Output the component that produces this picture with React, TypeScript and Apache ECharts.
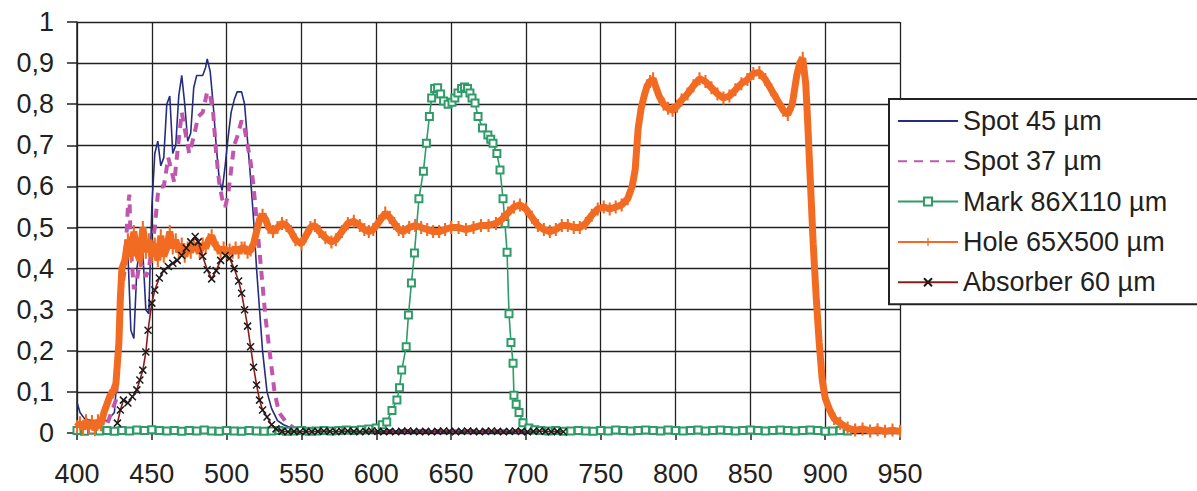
import React, { useEffect, useRef } from "react";
import * as echarts from "echarts";

const xTicks = { min: 400, max: 950, interval: 50 };
const yTicks = { min: 0, max: 1, interval: 0.1 };

const seriesNames = ["Spot 45 µm", "Spot 37 µm", "Mark 86X110 µm", "Hole 65X500 µm", "Absorber 60 µm"];

const spot45: number[][] = [
  [400, 0.075], [402, 0.05], [405, 0.035], [410, 0.03], [415, 0.03], [420, 0.03], [425, 0.05],
  [428, 0.2], [430, 0.38], [432, 0.46], [434, 0.44], [436, 0.25], [438, 0.23], [440, 0.4],
  [442, 0.45], [444, 0.44], [446, 0.3], [448, 0.29], [450, 0.55], [452, 0.68], [454, 0.71],
  [456, 0.65], [458, 0.67], [460, 0.8], [462, 0.82], [464, 0.68], [466, 0.7], [468, 0.82],
  [470, 0.87], [472, 0.8], [474, 0.71], [476, 0.73], [478, 0.84], [480, 0.87], [484, 0.87],
  [486, 0.89], [487, 0.91], [489, 0.88], [491, 0.8], [493, 0.7], [495, 0.62], [497, 0.59],
  [499, 0.65], [501, 0.72], [503, 0.78], [505, 0.81], [507, 0.83], [510, 0.83], [512, 0.8],
  [514, 0.71], [516, 0.62], [518, 0.52], [520, 0.4], [522, 0.3], [524, 0.2], [527, 0.1],
  [530, 0.06], [534, 0.03], [538, 0.02], [545, 0.01], [550, 0.006], [600, 0.005], [700, 0.004]
];

const spot37: number[][] = [
  [400, 0.02], [420, 0.02], [426, 0.08], [428, 0.2], [430, 0.35], [432, 0.4], [434, 0.55],
  [435, 0.58], [436, 0.45], [438, 0.35], [440, 0.37], [442, 0.42], [444, 0.4], [446, 0.38],
  [448, 0.4], [450, 0.45], [452, 0.5], [454, 0.58], [456, 0.6], [458, 0.6], [461, 0.67],
  [463, 0.64], [465, 0.61], [467, 0.68], [470, 0.78], [472, 0.74], [475, 0.68], [478, 0.72],
  [481, 0.77], [484, 0.78], [487, 0.83], [489, 0.82], [491, 0.78], [493, 0.68], [495, 0.61],
  [497, 0.57], [499, 0.55], [501, 0.58], [503, 0.64], [505, 0.7], [507, 0.72], [510, 0.76],
  [512, 0.74], [514, 0.7], [516, 0.66], [518, 0.6], [520, 0.52], [522, 0.44], [524, 0.36],
  [526, 0.28], [528, 0.22], [530, 0.16], [532, 0.1], [535, 0.05], [540, 0.025], [545, 0.012],
  [550, 0.008], [600, 0.005], [700, 0.004]
];

const mark86x110: number[][] = [
  [400, 0.006], [405, 0.004], [410, 0.007], [415, 0.005], [420, 0.006], [425, 0.004], [430, 0.006],
  [435, 0.005], [440, 0.007], [445, 0.006], [450, 0.008], [455, 0.006], [460, 0.005], [465, 0.006],
  [470, 0.004], [475, 0.006], [480, 0.005], [485, 0.007], [490, 0.005], [495, 0.004], [500, 0.006],
  [505, 0.005], [510, 0.004], [515, 0.006], [520, 0.005], [525, 0.004], [530, 0.005], [535, 0.006],
  [540, 0.004], [545, 0.005], [550, 0.006], [555, 0.004], [560, 0.005], [565, 0.006], [570, 0.005],
  [575, 0.006], [580, 0.007], [585, 0.006], [590, 0.008], [595, 0.01], [600, 0.012], [604, 0.02],
  [607, 0.027], [610.5, 0.055], [613.8, 0.08], [615.5, 0.11], [617, 0.153], [620, 0.21],
  [621.5, 0.287], [623.5, 0.365], [625.5, 0.438], [628.5, 0.57], [631.5, 0.637], [633.5, 0.705],
  [635.5, 0.77], [637, 0.815], [639, 0.838], [641, 0.84], [643, 0.825], [645, 0.808], [648, 0.8],
  [650.6, 0.805], [652.5, 0.815], [654.6, 0.827], [657, 0.838], [659, 0.842], [661, 0.838],
  [662.6, 0.827], [664, 0.815], [666, 0.803], [668, 0.77], [671, 0.742], [674.6, 0.725],
  [676.5, 0.715], [678, 0.705], [680.6, 0.68], [682.7, 0.64], [684.7, 0.57], [686, 0.51],
  [687.4, 0.44], [688.7, 0.29], [690, 0.22], [691.4, 0.17], [692, 0.092], [693.5, 0.07],
  [695.4, 0.05], [698, 0.025], [702, 0.012], [706, 0.008], [710, 0.006], [715, 0.005],
  [720, 0.006], [725, 0.004], [730, 0.005], [735, 0.006], [740, 0.005], [745, 0.004], [750, 0.006],
  [755, 0.005], [760, 0.007], [765, 0.006], [770, 0.005], [775, 0.006], [780, 0.007], [785, 0.006],
  [790, 0.005], [795, 0.007], [800, 0.006], [805, 0.005], [810, 0.006], [815, 0.007], [820, 0.005],
  [825, 0.006], [830, 0.007], [835, 0.006], [840, 0.005], [845, 0.006], [850, 0.007], [855, 0.006],
  [860, 0.005], [865, 0.006], [870, 0.007], [875, 0.006], [880, 0.005], [885, 0.006], [890, 0.007],
  [895, 0.006], [900, 0.004], [905, 0.005], [910, 0.006], [915, 0.005]
];

const hole65x500: number[][] = [
  [400, 0.015], [402, 0.025], [404, 0.01], [406, 0.03], [408, 0.012], [410, 0.028], [412, 0.008],
  [414, 0.03], [416, 0.02], [418, 0.05], [420, 0.07], [422, 0.09], [424, 0.1], [426, 0.12],
  [427, 0.17], [428, 0.22], [429, 0.33], [430, 0.4], [432, 0.42], [434, 0.47], [436, 0.43],
  [438, 0.49], [440, 0.44], [442, 0.42], [444, 0.5], [446, 0.44], [448, 0.47], [450, 0.43],
  [452, 0.46], [454, 0.42], [456, 0.48], [458, 0.43], [460, 0.45], [462, 0.49], [464, 0.45],
  [466, 0.47], [468, 0.44], [470, 0.46], [472, 0.43], [474, 0.45], [476, 0.44], [478, 0.46],
  [480, 0.45], [482, 0.44], [484, 0.46], [486, 0.45], [488, 0.47], [490, 0.48], [492, 0.46],
  [494, 0.45], [496, 0.44], [498, 0.45], [500, 0.44], [502, 0.445], [504, 0.44], [506, 0.45],
  [508, 0.44], [510, 0.45], [512, 0.45], [514, 0.44], [516, 0.445], [518, 0.46], [520, 0.49],
  [522, 0.52], [524, 0.53], [526, 0.52], [528, 0.5], [531, 0.49], [534, 0.5], [537, 0.51],
  [540, 0.505], [543, 0.49], [546, 0.47], [550, 0.46], [553, 0.48], [556, 0.5], [559, 0.505],
  [562, 0.49], [566, 0.475], [570, 0.465], [573, 0.47], [577, 0.49], [581, 0.51], [585, 0.515],
  [589, 0.505], [592, 0.495], [595, 0.49], [598, 0.495], [602, 0.515], [606, 0.535], [609, 0.525],
  [612, 0.51], [615, 0.495], [618, 0.49], [622, 0.5], [626, 0.505], [630, 0.5], [634, 0.495],
  [638, 0.49], [642, 0.49], [646, 0.495], [650, 0.5], [655, 0.5], [660, 0.495], [665, 0.5],
  [670, 0.505], [675, 0.505], [680, 0.51], [684, 0.52], [688, 0.535], [692, 0.55], [696, 0.555],
  [700, 0.545], [704, 0.525], [708, 0.505], [712, 0.495], [716, 0.49], [720, 0.495], [724, 0.505],
  [728, 0.505], [732, 0.5], [736, 0.5], [740, 0.51], [744, 0.53], [748, 0.545], [752, 0.55],
  [756, 0.545], [760, 0.55], [764, 0.555], [768, 0.57], [771, 0.6], [773, 0.64], [775, 0.74],
  [777, 0.79], [779, 0.82], [781, 0.845], [783, 0.855], [785, 0.862], [787, 0.84], [789, 0.82],
  [792, 0.8], [795, 0.79], [798, 0.785], [801, 0.795], [804, 0.81], [808, 0.825], [812, 0.845],
  [816, 0.862], [820, 0.855], [824, 0.84], [828, 0.825], [832, 0.815], [836, 0.82], [840, 0.835],
  [844, 0.85], [848, 0.86], [852, 0.875], [856, 0.877], [860, 0.86], [864, 0.835], [868, 0.81],
  [872, 0.785], [875, 0.775], [878, 0.8], [881, 0.87], [883, 0.9], [885, 0.912], [887, 0.85],
  [888, 0.78], [890, 0.62], [892, 0.46], [894, 0.33], [896, 0.22], [898, 0.13], [900, 0.085],
  [903, 0.056], [906, 0.035], [910, 0.024], [915, 0.012], [920, 0.007], [925, 0.01], [930, 0.005],
  [935, 0.008], [940, 0.004], [945, 0.007], [950, 0.004]
];

const absorber60: number[][] = [
  [427, 0.024], [429, 0.056], [431, 0.08], [434, 0.073], [437, 0.088], [440, 0.105], [442, 0.129],
  [444, 0.153], [446, 0.197], [447.5, 0.25], [450, 0.316], [452, 0.348], [455, 0.377], [458, 0.395],
  [461, 0.405], [464, 0.413], [467, 0.42], [470, 0.432], [473, 0.45], [476, 0.465], [479, 0.478],
  [481, 0.465], [484, 0.43], [487, 0.397], [490, 0.375], [493, 0.395], [496, 0.42], [499, 0.432],
  [502, 0.425], [505, 0.4], [508, 0.37], [510, 0.34], [512, 0.3], [514, 0.26], [516, 0.21],
  [518, 0.16], [520, 0.117], [522, 0.08], [524, 0.056], [527, 0.039], [530, 0.02], [533, 0.01],
  [537, 0.004], [541, 0.003], [545, 0.004], [549, 0.003], [553, 0.004], [557, 0.003], [561, 0.004],
  [565, 0.005], [569, 0.004], [573, 0.003], [577, 0.004], [581, 0.005], [585, 0.004], [589, 0.003],
  [593, 0.004], [597, 0.005], [601, 0.004], [605, 0.003], [609, 0.004], [613, 0.003], [617, 0.004],
  [621, 0.005], [625, 0.004], [629, 0.003], [633, 0.004], [637, 0.003], [641, 0.004], [645, 0.005],
  [649, 0.004], [653, 0.003], [657, 0.004], [661, 0.005], [665, 0.004], [669, 0.003], [673, 0.004],
  [677, 0.005], [681, 0.004], [685, 0.003], [689, 0.004], [693, 0.005], [697, 0.004], [701, 0.003],
  [705, 0.004], [709, 0.005], [713, 0.004], [717, 0.003], [721, 0.004], [725, 0.003]
];

const FONT = "'Liberation Sans', Arial, sans-serif";
const TXT = "#231f20";
// vertical bar with a square bounding box (tiny corner segments widen the box)
const BAR = "path://M0,0L0.01,0M4.2,0L5.8,0L5.8,10L4.2,10ZM10,10L9.99,10";
const CROSS = "path://M0,0L10,10M10,0L0,10";

export default function App() {
  const ref = useRef<HTMLDivElement>(null);
  useEffect(() => {
    if (!ref.current) return;
    const chart = echarts.init(ref.current, undefined, { renderer: "svg" });
    const option: any = {
      animation: false,
      backgroundColor: "#ffffff",
      grid: {
        left: 77,
        right: 297,
        top: 22,
        bottom: 58,
        containLabel: false,
        outerBoundsMode: "none"
      },
      xAxis: {
        type: "value",
        min: xTicks.min,
        max: xTicks.max,
        interval: xTicks.interval,
        axisLine: { show: true, lineStyle: { color: "#222", width: 1.5 } },
        axisTick: { show: true, length: 7, lineStyle: { color: "#222", width: 1.5 } },
        axisLabel: { fontSize: 27, lineHeight: 25, fontFamily: FONT, color: TXT, margin: 28 },
        splitLine: { show: true, lineStyle: { color: "#222", width: 1.3 } }
      },
      yAxis: {
        type: "value",
        min: yTicks.min,
        max: yTicks.max,
        interval: yTicks.interval,
        axisLine: { show: true, lineStyle: { color: "#222", width: 1.5 } },
        axisTick: { show: true, length: 10, lineStyle: { color: "#222", width: 1.5 } },
        axisLabel: {
          fontSize: 27,
          fontFamily: FONT,
          color: TXT,
          margin: 23,
          formatter: (v: number) => (v === 0 ? "0" : v === 1 ? "1" : v.toFixed(1).replace(".", ","))
        },
        splitLine: { show: true, lineStyle: { color: "#222", width: 1.3 } }
      },
      legend: {
        orient: "vertical",
        left: 889,
        top: 99,
        data: [
          { name: seriesNames[0], itemStyle: { opacity: 0 } },
          { name: seriesNames[1], itemStyle: { opacity: 0 } },
          { name: seriesNames[2] },
          { name: seriesNames[3] },
          { name: seriesNames[4] }
        ],
        backgroundColor: "#ffffff",
        borderColor: "#222",
        borderWidth: 2,
        borderRadius: 0,
        padding: [7, 40, 7, 8],
        itemWidth: 60,
        itemHeight: 10,
        itemGap: 10.3,
        textStyle: { fontSize: 27, fontFamily: FONT, color: TXT, lineHeight: 30 }
      },
      series: [
        {
          name: seriesNames[0],
          type: "line",
          data: spot45,
          symbol: "none",
          lineStyle: { color: "#262c80", width: 1.6 },
          itemStyle: { color: "#262c80" },
          z: 2
        },
        {
          name: seriesNames[1],
          type: "line",
          data: spot37,
          symbol: "none",
          lineStyle: { color: "#c157ad", width: 4, type: [9, 7] },
          itemStyle: { color: "#c157ad" },
          z: 3
        },
        {
          name: seriesNames[2],
          type: "line",
          data: mark86x110,
          symbol: "emptyRect",
          symbolSize: 7,
          showSymbol: true,
          lineStyle: { color: "#2e9b68", width: 1.6 },
          itemStyle: { color: "#2e9b68", borderWidth: 1.6 },
          z: 4
        },
        {
          name: seriesNames[3],
          type: "line",
          data: hole65x500,
          symbol: BAR,
          symbolSize: 13,
          showSymbol: true,
          lineStyle: { color: "#f26b22", width: 7 },
          itemStyle: { color: "#f26b22" },
          z: 5
        },
        {
          name: seriesNames[4],
          type: "line",
          data: absorber60,
          symbol: CROSS,
          symbolSize: 7,
          showSymbol: true,
          lineStyle: { color: "#8b1c1c", width: 1.6 },
          itemStyle: { color: "none", borderColor: "#1a1a1a", borderWidth: 1.5 },
          z: 6
        }
      ]
    };
    chart.setOption(option);
    return () => chart.dispose();
  }, []);
  return (
    <div
      ref={ref}
      style={{ position: "fixed", left: 0, top: 0, width: 1197, height: 491, background: "#fff" }}
    />
  );
}
